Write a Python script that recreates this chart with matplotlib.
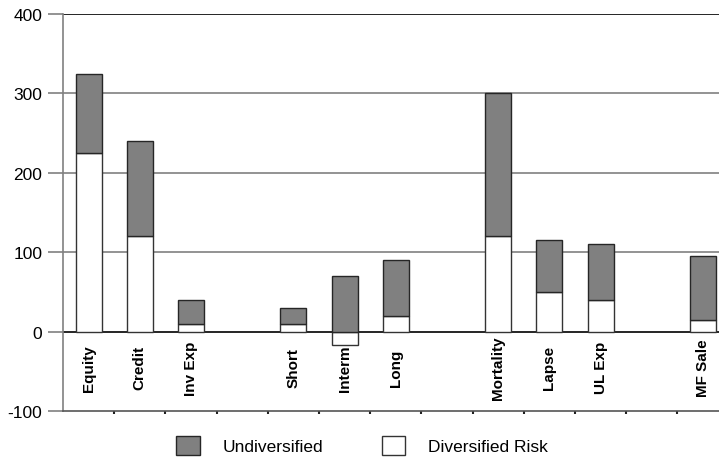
import matplotlib.pyplot as plt
from matplotlib.patches import Patch

plt.rcParams['font.family'] = ['Liberation Sans', 'DejaVu Sans']

# Risk components (blank slots separate the groups)
categories = ['Equity', 'Credit', 'Inv Exp', '', 'Short', 'Interm', 'Long', '',
              'Mortality', 'Lapse', 'UL Exp', '', 'MF Sale']
undiversified = [325, 240, 40, None, 30, 70, 90, None, 300, 115, 110, None, 95]
diversified = [225, 120, 10, None, 10, -17, 20, None, 120, 50, 40, None, 15]

fig = plt.figure(figsize=(7.19, 4.60), dpi=100)
# axes runs a little past the right edge of the figure
ax = fig.add_axes([63 / 719, 48 / 460, 665.6 / 719, 397 / 460])

width = 0.51
for i, (tot, div) in enumerate(zip(undiversified, diversified)):
    if tot is None:
        continue
    ax.bar(i, div, width=width, color='white', edgecolor='#333333',
           linewidth=1, zorder=3)
    base = max(div, 0)
    ax.bar(i, tot - base, bottom=base, width=width, color='#808080',
           edgecolor='#262626', linewidth=1, zorder=3)
    ax.text(i, -45, categories[i], rotation=90, ha='center', va='center',
            fontsize=11, fontweight='bold', zorder=4)

ax.set_xlim(-0.5, len(categories) - 0.5)
ax.set_ylim(-100, 400)
ax.set_yticks([-100, 0, 100, 200, 300, 400])
ax.set_yticklabels(['-100', '0', '100', '200', '300', '400'], fontsize=12.5)

for y in [100, 200, 300]:
    ax.axhline(y, color='#808080', linewidth=1.2, zorder=1)
ax.axhline(0, color='black', linewidth=1.2, zorder=2)
ax.axhline(400, color='black', linewidth=1.2, zorder=2)

ax.set_xticks([k + 0.5 for k in range(len(categories) - 1)])
ax.set_xticklabels([])
ax.tick_params(axis='x', direction='out', length=2, width=1.5, color='#222222')
ax.tick_params(axis='y', direction='out', length=11, width=1.2, color='#808080', pad=4)

ax.spines['top'].set_visible(False)
ax.spines['right'].set_visible(False)
ax.spines['left'].set_color('#808080')
ax.spines['left'].set_linewidth(1.2)
ax.spines['bottom'].set_color('#555555')
ax.spines['bottom'].set_linewidth(1.2)

handles = [Patch(facecolor='#808080', edgecolor='#262626', label='Undiversified'),
           Patch(facecolor='white', edgecolor='#333333', label='Diversified Risk')]
fig.legend(handles=handles, loc='center', bbox_to_anchor=(0.5035, 0.029), ncol=2,
           frameon=False, fontsize=12.5, handlelength=1.35, handleheight=1.35,
           handletextpad=1.3, columnspacing=3.4)

fig.savefig('out.png', dpi=100)
